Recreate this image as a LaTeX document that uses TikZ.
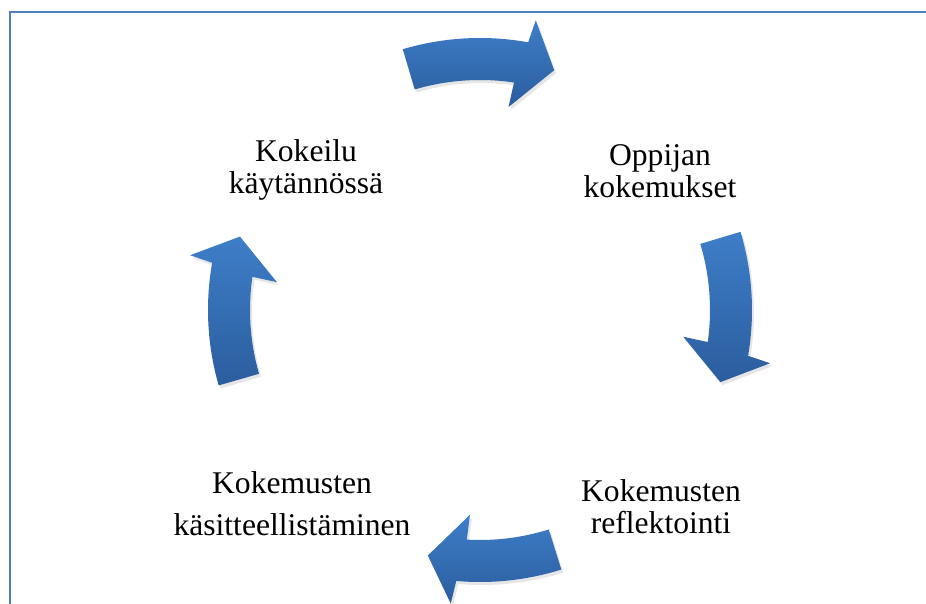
\documentclass[tikz,border=0pt]{standalone}
\usepackage{fontspec}
\setmainfont{Liberation Serif}
\usetikzlibrary{shadows}
\definecolor{framecol}{RGB}{79,129,189}
\definecolor{arrowtop}{RGB}{62,126,200}
\definecolor{arrowbot}{RGB}{43,93,158}
\begin{document}
\begin{tikzpicture}[x=0.5pt,y=0.5pt,
  cyclearrow/.style={top color=arrowtop,bottom color=arrowbot,draw=none,
    drop shadow={shadow xshift=1pt,shadow yshift=-1.5pt,opacity=0.2}},
  phasetext/.style={align=center,font=\fontsize{15.8}{16}\selectfont}]
\useasboundingbox (0,0) rectangle (926,604);
% the frame
\draw[framecol,line width=1pt] (10,0) -- (10,592) -- (926,592);
% the four curved arrows round the centre
\begin{scope}[shift={(480,294)}]
\foreach \a/\b in {106.5/72.8,16.7/-16.7,-72.6/-102,196.1/163}
  \path[cyclearrow] (\a:272) arc[start angle=\a,end angle=\b+7,radius=272]
    -- ({\b+6.3}:295) -- (\b:251) -- ({\b+9.2}:205) -- ({\b+8.7}:230)
    arc[start angle=\b+8.7,end angle=\a,radius=230] -- cycle;
\end{scope}
% the phases of the cycle
\node[phasetext] (oppijan) at (660,433) {Oppijan\\kokemukset};
\node[phasetext] (reflektointi) at (661,97) {Kokemusten\\reflektointi};
\node[phasetext,font=\fontsize{15.8}{21}\selectfont] (kasitteellistaminen) at (292,100) {Kokemusten\\käsitteellistäminen};
\node[phasetext] (kokeilu) at (306,434) {Kokeilu\\käytännössä};
\end{tikzpicture}
\end{document}
